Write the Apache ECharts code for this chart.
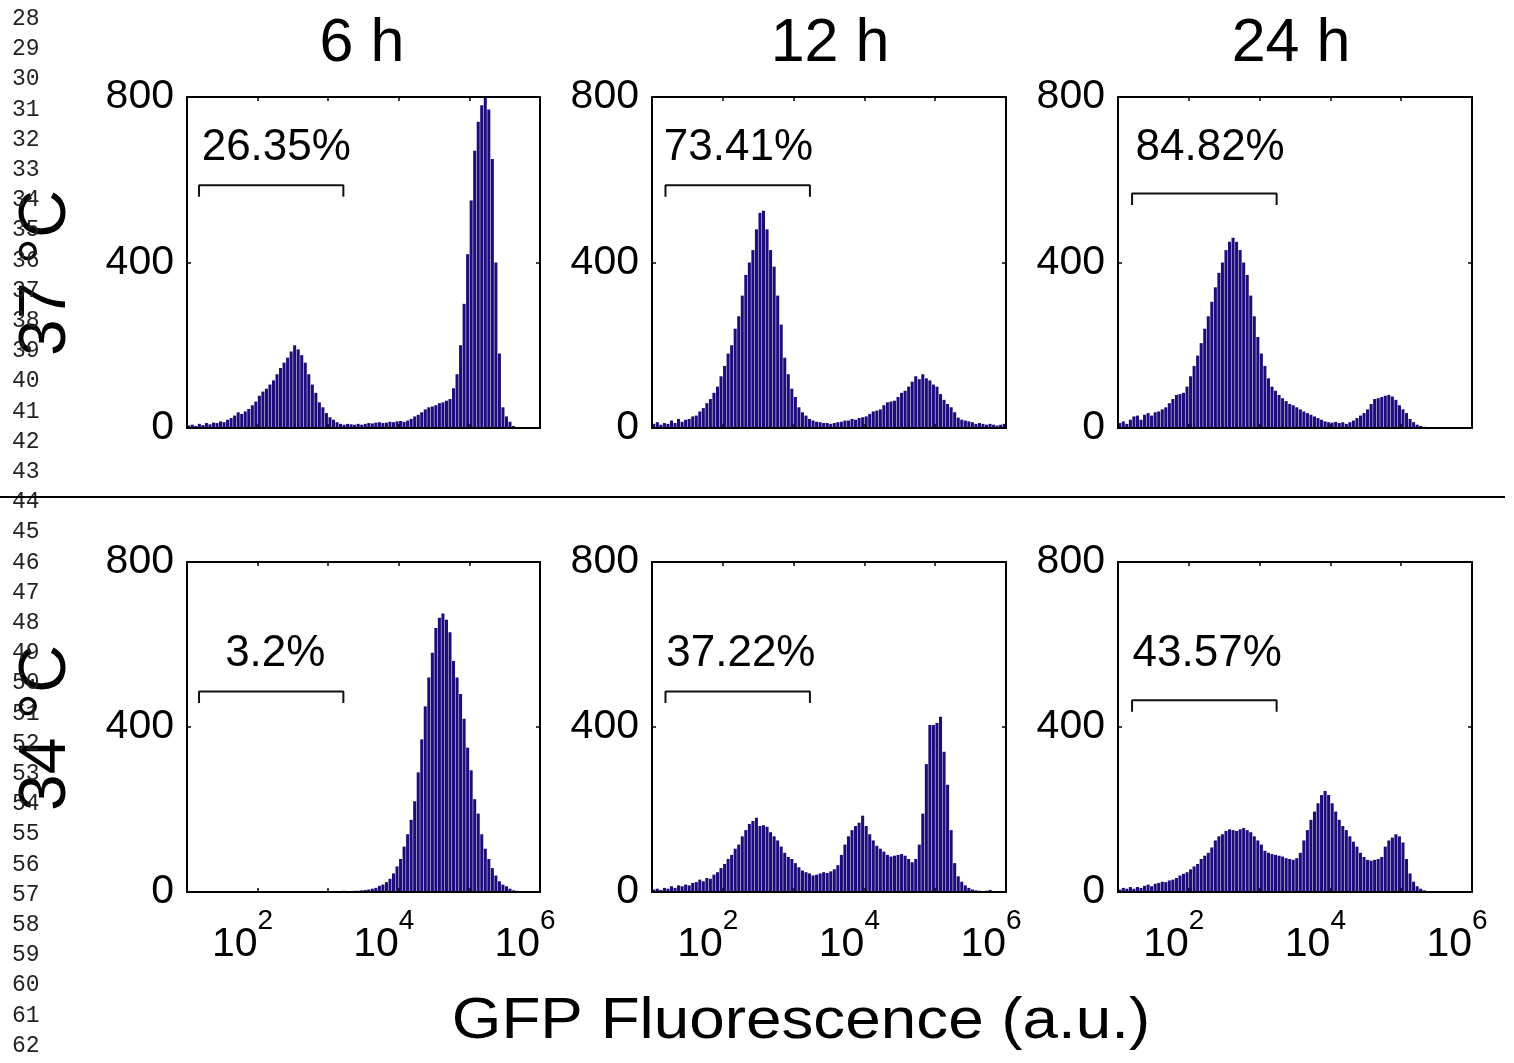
<!DOCTYPE html>
<html><head><meta charset="utf-8">
<script src="https://cdn.jsdelivr.net/npm/echarts@6/dist/echarts.min.js"></script>
<style>html,body{margin:0;padding:0;background:#fff}#c{width:1514px;height:1063px}</style>
</head><body><div id="c"></div>
<script>
// ---- text ----
const colTitles = ['6 h', '12 h', '24 h'];
const rowLabels = ['37 °C', '34 °C'];
const xLabel = 'GFP Fluorescence (a.u.)';
const yTicks = [0, 400, 800];
const xTickExponents = [2, 4, 6];

// ---- histogram counts: 100 bins, each 0.05 decade, from 10^1 to 10^6 ----
const h37_6h = [6,8,5,10,7,12,9,13,12,16, 14,20,24,30,38,34,40,46,55,64, 78,88,95,105,115,130,145,158,170,185,
  200,190,176,158,130,105,85,62,50,36, 26,20,14,10,8,10,9,8,10,8, 10,12,11,13,14,12,13,15,14,16,
  17,15,18,22,28,32,38,45,50,52, 55,60,62,66,70,96,130,200,300,420, 550,670,740,780,800,770,650,400,180,50,
  28,15,5,0,0,0,0,0,0,0];
const h37_12h = [10,14,8,12,10,18,12,22,15,20, 22,28,30,40,48,60,70,85,100,125, 150,180,200,240,270,320,370,400,430,480,
  520,525,480,430,390,320,250,170,130,95, 75,50,38,30,22,18,15,14,12,12, 10,12,14,15,18,18,22,20,24,26,
  28,34,40,42,45,55,62,64,66,75, 85,90,100,112,125,118,130,120,115,105, 100,82,68,58,50,38,25,20,18,16,
  14,10,12,10,8,10,8,6,8,10];
const h37_24h = [12,16,10,20,28,30,20,32,36,30, 38,40,45,50,60,70,80,82,85,100, 125,150,175,205,240,270,305,340,375,400,
  430,450,460,450,430,400,370,320,270,220, 180,150,120,100,90,80,72,65,58,55, 50,45,40,36,32,28,24,20,16,14,
  13,15,12,14,10,14,18,24,30,36, 45,58,70,72,75,78,80,76,68,55, 45,36,22,14,8,5,3,2,1,0,
  0,0,0,0,0,0,0,0,0,0];
const h34_6h = [0,0,0,0,0,0,0,0,0,0, 0,0,0,0,0,0,0,0,0,0, 0,0,0,0,0,0,0,0,0,0,
  0,0,0,0,0,0,0,0,0,0, 0,1,1,2,3,2,2,3,3,4, 5,6,8,10,15,18,24,32,45,62,
  80,110,140,175,220,290,370,450,520,580, 640,665,675,660,630,560,520,480,420,350, 295,225,190,140,105,80,58,40,26,18,
  14,8,4,3,2,1,1,1,1,1];
const h34_12h = [6,8,5,10,8,14,10,16,14,18, 16,22,24,30,26,34,32,42,48,58, 68,80,90,105,115,135,150,165,172,180,
  160,162,158,145,135,125,110,95,85,80, 70,60,52,48,45,40,42,45,48,46, 50,55,65,90,115,135,150,160,168,185,
  160,140,125,112,105,98,90,86,88,90, 92,88,80,72,80,115,190,310,405,405, 410,425,340,260,150,70,38,25,16,10,
  6,4,3,2,3,5,2,2,1,1];
const h34_24h = [6,10,8,12,8,12,10,15,18,14, 20,22,25,24,28,30,34,40,44,48, 55,62,68,80,88,95,108,125,135,140,
  148,152,150,148,152,155,150,145,135,125, 115,100,95,92,90,88,86,82,80,78, 82,95,125,150,175,195,215,235,245,235,
  215,195,175,160,150,135,122,110,95,85, 78,76,78,80,85,110,125,132,140,135, 120,80,45,25,14,8,4,2,0,0,
  0,0,0,0,0,0,0,0,0,0];
const panelData = [h37_6h, h37_12h, h37_24h, h34_6h, h34_12h, h34_24h];

// ---- gate annotations ----
const percentLabels = ['26.35%', '73.41%', '84.82%', '3.2%', '37.22%', '43.57%'];
const percentX = [184, 166, 200, 178, 180, 182];
const percentY = [676, 676, 676, 578, 578, 578];
const gateLo = [14.8, 15.5, 15.8, 14.8, 15.5, 15.8];
const gateHi = [1640, 1700, 1740, 1640, 1700, 1740];
const gateTop = [587, 587, 567, 486, 486, 465];
const gateFoot = [559, 559, 539, 458, 458, 437];

// bin category labels (bin start exponent)
const binCats = Array.from({length: 100}, (_, i) => (1 + i * 0.05).toFixed(2));

const FONT = '"Liberation Sans", Arial, Helvetica, sans-serif';
const BAR = '#1c0c7c';
const colLeft = [187, 652, 1118];
const colWidth = [353, 354, 354];
const rowTop = [97, 562];
const rowHeight = [331, 330];

const grids = [], xAxes = [], yAxes = [], series = [];
for (let k = 0; k < 6; k++) {
  const r = Math.floor(k / 3), c = k % 3;
  grids.push({left: colLeft[c], top: rowTop[r], width: colWidth[c], height: rowHeight[r], containLabel: false});
  xAxes.push({type: 'category', gridIndex: k, data: binCats, show: false, boundaryGap: true});
  const logAxisBase = {
    type: 'log', logBase: 10, gridIndex: k, min: 10, max: 1000000, z: 10,
    axisLine: {show: true, lineStyle: {color: '#000', width: 2}},
    axisTick: {show: true, inside: true, length: 4, lineStyle: {color: '#000', width: 1.5}},
    splitLine: {show: false}, minorTick: {show: false}
  };
  xAxes.push(Object.assign({}, logAxisBase, {
    position: 'bottom',
    axisLabel: {
      show: r === 1, margin: 15, showMinLabel: true, showMaxLabel: true, hideOverlap: false,
      padding: [0, 30, 0, 0],
      formatter: v => {
        const e = Math.round(Math.log10(v));
        return xTickExponents.indexOf(e) >= 0 ? '{b|10}{s|' + e + '}' : '';
      },
      rich: {
        b: {fontSize: 41, fontFamily: FONT, color: '#000', padding: [17, 0, 0, 0], verticalAlign: 'bottom'},
        s: {fontSize: 28, fontFamily: FONT, color: '#000', lineHeight: 28, verticalAlign: 'top'}
      }
    }
  }));
  xAxes.push(Object.assign({}, logAxisBase, {position: 'top', axisLabel: {show: false}}));
  const yBase = {
    type: 'value', gridIndex: k, min: 0, max: 800, interval: 400, z: 10,
    axisLine: {show: true, lineStyle: {color: '#000', width: 2}},
    axisTick: {show: true, inside: true, length: 4, lineStyle: {color: '#000', width: 1.5}},
    splitLine: {show: false}
  };
  yAxes.push(Object.assign({}, yBase, {
    position: 'left',
    axisLabel: {show: true, fontSize: 41, fontFamily: FONT, color: '#000', margin: 13}
  }));
  yAxes.push(Object.assign({}, yBase, {position: 'right', axisLabel: {show: false}}));

  series.push({
    type: 'bar', xAxisIndex: 3 * k, yAxisIndex: 2 * k, data: panelData[k],
    barCategoryGap: '14%', itemStyle: {color: BAR}, silent: true
  });
  series.push({
    type: 'line', xAxisIndex: 3 * k + 1, yAxisIndex: 2 * k, symbol: 'none', silent: true,
    lineStyle: {color: '#111', width: 2},
    data: [[gateLo[k], gateFoot[k]], [gateLo[k], gateTop[k]], [gateHi[k], gateTop[k]], [gateHi[k], gateFoot[k]]]
  });
  series.push({
    type: 'scatter', xAxisIndex: 3 * k + 1, yAxisIndex: 2 * k, symbol: 'rect', symbolSize: 0, silent: true, z: 5,
    itemStyle: {color: '#000'},
    label: {show: true, position: 'inside', formatter: percentLabels[k], fontSize: 44, fontFamily: FONT,
            color: '#000', opacity: 1, textBorderWidth: 0, textShadowBlur: 0},
    data: [[percentX[k], percentY[k]]]
  });
}

// ---- graphic texts ----
const graphics = [];
const titleX = [362, 830, 1291];
colTitles.forEach((t, i) => graphics.push({
  type: 'text', x: titleX[i], y: 44, style: {text: t, font: '61px ' + FONT, fill: '#000', align: 'center', verticalAlign: 'middle'}
}));
const rowY = [273, 728];
rowLabels.forEach((t, i) => graphics.push({
  type: 'text', x: 47, y: rowY[i], rotation: Math.PI / 2,
  style: {text: t, font: '66px ' + FONT, fill: '#000', align: 'center', verticalAlign: 'middle'}
}));
graphics.push({
  type: 'text', x: 801, y: 1022, scaleX: 1.1,
  style: {text: xLabel, font: '58px ' + FONT, fill: '#000', align: 'center', verticalAlign: 'middle'}
});
// manuscript line numbers
for (let n = 28; n <= 62; n++) {
  graphics.push({
    type: 'text', x: 12, y: 19 + (n - 28) * 30.2,
    style: {text: String(n), font: '23px "Liberation Mono", "DejaVu Sans Mono", monospace', fill: '#222', align: 'left', verticalAlign: 'middle'}
  });
}
// separator line between rows
graphics.push({type: 'line', shape: {x1: 0, y1: 497, x2: 1505, y2: 497}, style: {stroke: '#000', lineWidth: 2}});

const chart = echarts.init(document.getElementById('c'), null, {renderer: 'canvas'});
chart.setOption({
  animation: false,
  backgroundColor: '#fff',
  grid: grids, xAxis: xAxes, yAxis: yAxes, series: series, graphic: graphics
});
</script></body></html>
